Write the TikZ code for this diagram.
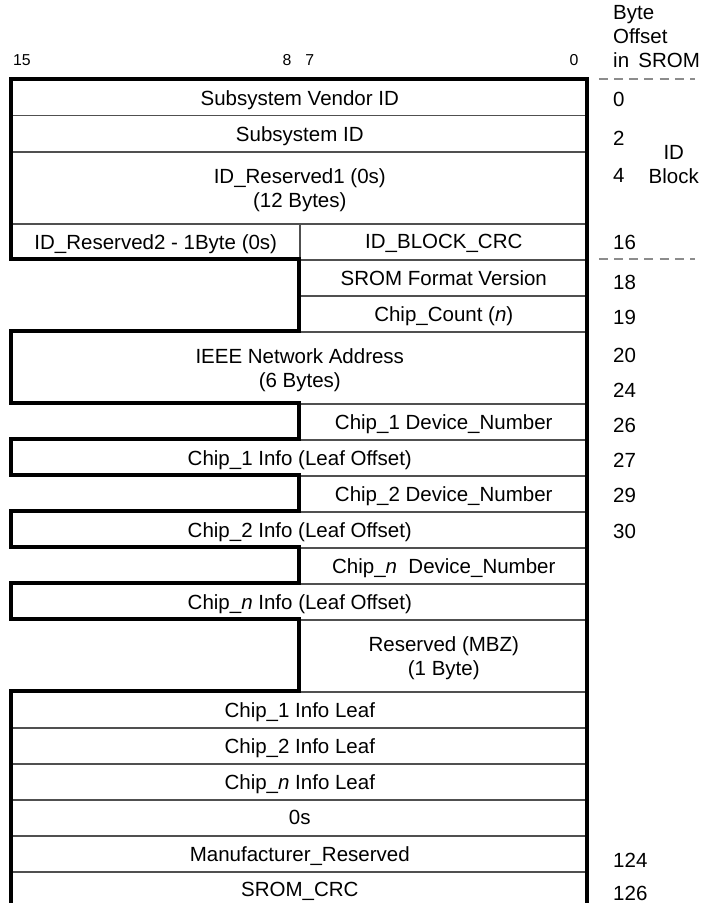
\documentclass[tikz,border=0pt]{standalone}
\usepackage{fontspec}
\setmainfont{Liberation Sans}
\usetikzlibrary{positioning}
\definecolor{linegray}{RGB}{80,80,80}
\definecolor{dashgray}{RGB}{140,140,140}

\begin{document}
\begin{tikzpicture}[
	every node/.append style={font=\fontsize{16.2}{19}\selectfont},
	field/.style={draw=linegray,line width=1.2pt,inner sep=0pt,anchor=north west,minimum height=1cm,align=center,text depth=0pt},
	full/.style={field,minimum width=16cm},
	half/.style={field,minimum width=8cm},
	offs/.style={anchor=west,inner sep=0pt},
	bitno/.style={font=\fontsize{12.5}{14}\selectfont,inner sep=0pt}]
	\useasboundingbox (-0.306,2.194) rectangle (19.222,-22.889);

	% ID block
	\node[full] (vid) at (0,0) {Subsystem Vendor ID};
	\node[full] (sid) at (0,-1) {Subsystem ID};
	\node[full,minimum height=2cm] (idres1) at (0,-2) {ID\_Reserved1 (0s)\\(12 Bytes)};
	\node[half] (idres2) at (0,-4) {ID\_Reserved2 - 1Byte (0s)};
	\node[half] (idcrc) at (8,-4) {ID\_BLOCK\_CRC};

	% header
	\node[half] (fmt) at (8,-5) {SROM Format Version};
	\node[half] (cnt) at (8,-6) {Chip\_Count (\textit{n})};
	\node[full,minimum height=2cm] (ieee) at (0,-7) {IEEE Network Address\\(6 Bytes)};
	\node[half] (dev1) at (8,-9) {Chip\_1 Device\_Number};
	\node[full] (info1) at (0,-10) {Chip\_1 Info (Leaf Offset)};
	\node[half] (dev2) at (8,-11) {Chip\_2 Device\_Number};
	\node[full] (info2) at (0,-12) {Chip\_2 Info (Leaf Offset)};
	\node[half] (devn) at (8,-13) {Chip\_\textit{n}\ \ Device\_Number};
	\node[full] (infon) at (0,-14) {Chip\_\textit{n} Info (Leaf Offset)};
	\node[half,minimum height=2cm] (mbz) at (8,-15) {Reserved (MBZ)\\(1 Byte)};

	% info leaves
	\node[full] (leaf1) at (0,-17) {Chip\_1 Info Leaf};
	\node[full] (leaf2) at (0,-18) {Chip\_2 Info Leaf};
	\node[full] (leafn) at (0,-19) {Chip\_\textit{n} Info Leaf};
	\node[full] (zeros) at (0,-20) {0s};
	\node[full] (mfr) at (0,-21) {Manufacturer\_Reserved};
	\node[full] (crc) at (0,-22) {SROM\_CRC};

	% thick outline
	\draw[line width=3pt,line join=miter] (16,-23.5) -- (16,0) -- (0,0) -- (0,-5) -- (8,-5) -- (8,-7)
		-- (0,-7) -- (0,-9) -- (8,-9) -- (8,-10) -- (0,-10) -- (0,-11) -- (8,-11) -- (8,-12)
		-- (0,-12) -- (0,-13) -- (8,-13) -- (8,-14) -- (0,-14) -- (0,-15) -- (8,-15) -- (8,-17)
		-- (0,-17) -- (0,-23.5);

	% bit numbers
	\node[bitno] (b15) at (0.3,0.53) {15};
	\node[bitno] (b8) at (7.67,0.53) {8};
	\node[bitno] (b7) at (8.3,0.53) {7};
	\node[bitno] (b0) at (15.64,0.53) {0};

	% byte offsets
	\node[offs,align=left] (head) at (16.72,1.19) {Byte\\Offset\\in\hspace{0.45em}SROM};
	\node[offs] (o0) at (16.72,-0.58) {0};
	\node[offs] (o2) at (16.72,-1.64) {2};
	\node[offs] (o4) at (16.72,-2.69) {4};
	\node[offs] (o16) at (16.72,-4.53) {16};
	\node[offs] (o18) at (16.72,-5.64) {18};
	\node[offs] (o19) at (16.72,-6.61) {19};
	\node[offs] (o20) at (16.72,-7.67) {20};
	\node[offs] (o24) at (16.72,-8.64) {24};
	\node[offs] (o26) at (16.72,-9.61) {26};
	\node[offs] (o27) at (16.72,-10.58) {27};
	\node[offs] (o29) at (16.72,-11.56) {29};
	\node[offs] (o30) at (16.72,-12.58) {30};
	\node[offs] (o124) at (16.72,-21.69) {124};
	\node[offs] (o126) at (16.72,-22.61) {126};
	\node[align=center,inner sep=0pt] (idblk) at (18.41,-2.39) {ID\\Block};

	\coordinate (d1a) at (16.33,0);
	\coordinate (d1b) at (19.0,0);
	\coordinate (d2a) at (16.33,-5);
	\coordinate (d2b) at (19.0,-5);
	\draw[dashgray,line width=1.2pt,dash pattern=on 7pt off 5pt] (d1a) -- (d1b);
	\draw[dashgray,line width=1.2pt,dash pattern=on 7pt off 5pt] (d2a) -- (d2b);
\end{tikzpicture}
\end{document}
